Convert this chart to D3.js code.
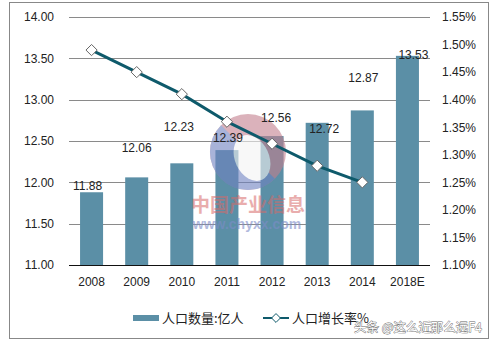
<!DOCTYPE html>
<html><head><meta charset="utf-8">
<script src="https://cdn.jsdelivr.net/npm/d3@7"></script>
<style>body{margin:0;background:#fff}svg{display:block}</style>
</head><body>
<svg id="c" width="495" height="343"></svg>
<script>
const years = ["2008","2009","2010","2011","2012","2013","2014","2018E"];
const population = [11.88,12.06,12.23,12.39,12.56,12.72,12.87,13.53];
const growthYears = ["2008","2009","2010","2011","2012","2013","2014"];
const growthRate = [1.49,1.45,1.41,1.36,1.32,1.28,1.25];
const leftTicks = [11.00,11.50,12.00,12.50,13.00,13.50,14.00];
const rightTicks = [1.10,1.15,1.20,1.25,1.30,1.35,1.40,1.45,1.50,1.55];
const seriesNames = ["人口数量:亿人","人口增长率%"];
// label placement tweaks (px) to mimic the reference
const labelLift = [2,25,32,8,14,-10,28,-3];
const labelDx = [-4,0,-3,1,4,7,1,6];

const svg = d3.select("#c");
const numFont = "'Liberation Sans', Arial, sans-serif";
const cjkFont = "'Noto Sans CJK SC', sans-serif";
const L = 69, R = 430, T = 17, B = 265;

svg.append("rect").attr("x",9.5).attr("y",2.5).attr("width",479).attr("height",336)
  .attr("fill","#fff").attr("stroke","#888").attr("stroke-width",1);

const x = d3.scaleBand().domain(years).range([L,R]).paddingInner(0.49).paddingOuter(0.245);
const yL = d3.scaleLinear().domain([11,14]).range([B,T]);
const yR = d3.scaleLinear().domain([1.10,1.55]).range([B,T]);

// gridlines
svg.append("g").attr("transform",`translate(${L},0)`)
  .call(d3.axisLeft(yL).tickValues(leftTicks).tickSize(-(R-L)).tickFormat(""))
  .call(g=>g.select(".domain").remove())
  .call(g=>g.selectAll("line").attr("stroke","#8a8a8a").attr("shape-rendering","crispEdges"));

// left labels
svg.append("g").attr("transform",`translate(${L},0)`)
  .call(d3.axisLeft(yL).tickValues(leftTicks).tickSize(0).tickPadding(15).tickFormat(d3.format(".2f")))
  .call(g=>g.select(".domain").remove())
  .call(g=>g.selectAll("text").attr("font-family",numFont).attr("font-size",12).attr("fill","#222"));

// right labels
svg.append("g").attr("transform",`translate(${R},0)`)
  .call(d3.axisRight(yR).tickValues(rightTicks).tickSize(0).tickPadding(12).tickFormat(d=>d.toFixed(2)+"%"))
  .call(g=>g.select(".domain").remove())
  .call(g=>g.selectAll("text").attr("font-family",numFont).attr("font-size",12).attr("fill","#222"));

// bars
svg.append("g").selectAll("rect").data(population).join("rect")
  .attr("x",(d,i)=>x(years[i])).attr("width",x.bandwidth())
  .attr("y",d=>yL(d)).attr("height",d=>B-yL(d)).attr("fill","#5b8fa6");

// bottom axis
svg.append("g").attr("transform",`translate(0,${B})`)
  .call(d3.axisBottom(x).tickSize(0).tickPadding(12))
  .call(g=>g.select(".domain").attr("stroke","#111").attr("d",`M${L},0.5H${R}`))
  .call(g=>g.selectAll("text").attr("font-family",numFont).attr("font-size",12).attr("fill","#222"));

// watermark logo (semi transparent)
const wm = svg.append("g").attr("opacity",0.6);
const cx = 248, cy = 152;
wm.append("circle").attr("cx",cx).attr("cy",cy).attr("r",38).attr("fill","#c4808e");
wm.append("path").attr("d",d3.arc().innerRadius(0).outerRadius(38).startAngle(Math.PI*0.75).endAngle(Math.PI*1.75)()).attr("transform",`translate(${cx},${cy})`).attr("fill","#6f82c0");
wm.append("ellipse").attr("cx",cx+4).attr("cy",cy+6).attr("rx",17).attr("ry",24).attr("fill","#f4f4f4").attr("transform",`rotate(-25,${cx+4},${cy+6})`);
wm.append("text").attr("x",248).attr("y",212).attr("text-anchor","middle").attr("font-family",cjkFont)
  .attr("font-weight","bold").attr("font-size",19).attr("fill","#d96a6a").attr("opacity",0.9).text("中国产业信息");
wm.append("text").attr("x",247).attr("y",229).attr("text-anchor","middle").attr("font-family",numFont)
  .attr("font-weight","bold").attr("font-size",14).attr("fill","#7d8cc8").text("www.chyxx.com");

// line
const cxp = d=>x(d)+x.bandwidth()/2;
svg.append("path").datum(growthRate)
  .attr("d",d3.line().x((d,i)=>cxp(growthYears[i])).y(d=>yR(d)))
  .attr("fill","none").attr("stroke","#0e5a6b").attr("stroke-width",3);
const diamond = d3.symbol().type(d3.symbolDiamond2).size(80);
svg.append("g").selectAll("path").data(growthRate).join("path")
  .attr("d",diamond).attr("transform",(d,i)=>`translate(${cxp(growthYears[i])},${yR(d)})`)
  .attr("fill","#fff").attr("stroke","#666").attr("stroke-width",1);

// bar value labels
svg.append("g").selectAll("text").data(population).join("text")
  .attr("x",(d,i)=>cxp(years[i])+labelDx[i]).attr("y",(d,i)=>yL(d)-labelLift[i])
  .attr("text-anchor","middle").attr("font-family",numFont).attr("font-size",12).attr("fill","#222")
  .text(d=>d.toFixed(2));

// legend
const lg = svg.append("g").attr("font-family",cjkFont).attr("font-size",13).attr("fill","#222");
lg.append("rect").attr("x",133).attr("y",315).attr("width",26).attr("height",6).attr("fill","#5b8fa6");
lg.append("text").attr("x",162).attr("y",323).text(seriesNames[0]);
lg.append("line").attr("x1",263).attr("x2",289).attr("y1",318).attr("y2",318).attr("stroke","#0e5a6b").attr("stroke-width",2);
lg.append("path").attr("d",d3.symbol().type(d3.symbolDiamond2).size(50)).attr("transform","translate(276,318)")
  .attr("fill","#fff").attr("stroke","#0e5a6b").attr("stroke-width",1);
lg.append("text").attr("x",292).attr("y",323).text(seriesNames[1]);

// platform watermark
svg.append("text").attr("x",354).attr("y",332).attr("font-family",cjkFont).attr("font-size",12.5)
  .attr("textLength",128).attr("lengthAdjust","spacingAndGlyphs")
  .attr("fill","#fff").attr("stroke","#666").attr("stroke-width",0.8).attr("paint-order","stroke")
  .text("头条 @这么近那么远F4");
</script>
</body></html>
